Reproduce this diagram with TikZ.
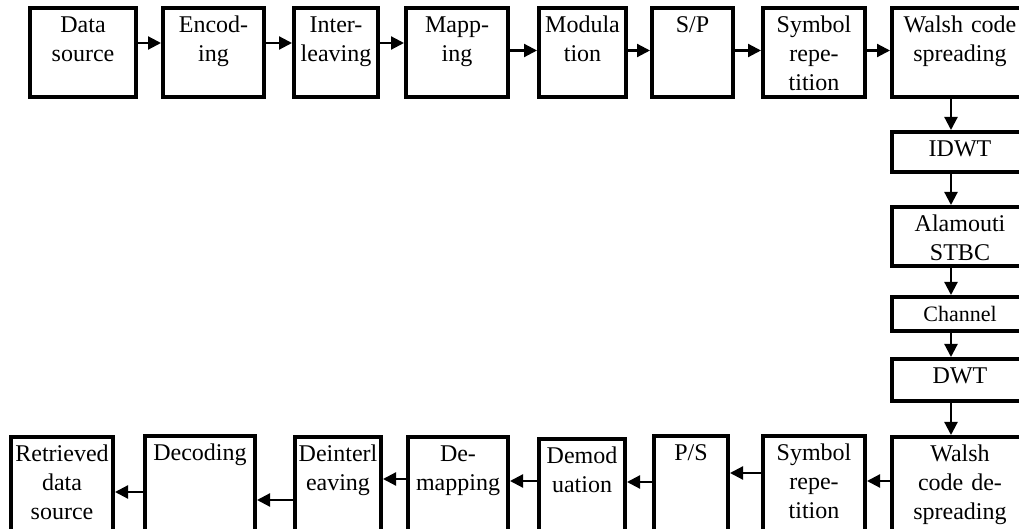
\documentclass[tikz,border=0pt]{standalone}
\usepackage{fontspec}
\setmainfont{Liberation Serif}
\usetikzlibrary{arrows.meta}
\tikzset{every picture/.style={line width=0.75pt}}
\tikzset{
    blk/.style={draw,line width=2pt,inner sep=0pt,align=center,anchor=north west,
        font=\fontsize{12}{14.5}\selectfont,text height=12.5pt},
    arr/.style={line width=1.1pt,-{Triangle[length=6.5pt,width=6.5pt]}}
}

\begin{document}
\begin{tikzpicture}[x=0.5pt,y=-0.5pt]
    \useasboundingbox (0,0) rectangle (1019,529);

    % Transmitter chain (top row)
    \node[blk,text width=53pt,text depth=32pt] (dsrc) at (28,6) {Data\\source};
    \node[blk,text width=50.5pt,text depth=32pt] (enc) at (161,6) {Encod-\\ing};
    \node[blk,text width=42pt,text depth=32pt] (intl) at (292,6) {Inter-\\leaving};
    \node[blk,text width=51pt,text depth=32pt] (map) at (404,6) {Mapp-\\ing};
    \node[blk,text width=43.5pt,text depth=32pt] (mod) at (537,6) {Modula\\tion};
    \node[blk,text width=40.5pt,text depth=32pt] (sp) at (650,6) {S/P};
    \node[blk,text width=51pt,text depth=32pt] (srep) at (761,6) {Symbol\\repe-\\tition};
    \node[blk,text width=68pt,text depth=32pt] (wspr) at (890,6) {Walsh code\\spreading};

    \draw[arr] ([yshift=4.75pt]dsrc.east) -- ([yshift=4.75pt]enc.west);
    \draw[arr] ([yshift=4.75pt]enc.east) -- ([yshift=4.75pt]intl.west);
    \draw[arr] ([yshift=4.75pt]intl.east) -- ([yshift=4.75pt]map.west);
    \draw[arr] ([yshift=1pt]map.east) -- ([yshift=1pt]mod.west);
    \draw[arr] ([yshift=1pt]mod.east) -- ([yshift=1pt]sp.west);
    \draw[arr] ([yshift=1pt]sp.east) -- ([yshift=1pt]srep.west);
    \draw[arr] ([yshift=1pt]srep.east) -- ([yshift=1pt]wspr.west);

    % Right column
    \node[blk,text width=68pt,text depth=7.5pt] (idwt) at (890,130) {IDWT};
    \node[blk,text width=68pt,text depth=17pt] (alam) at (890,205) {Alamouti\\STBC};
    \node[blk,text width=68pt,text depth=4.5pt,font=\fontsize{11}{13}\selectfont] (chan) at (890,295) {Channel};
    \node[blk,text width=68pt,text depth=8.5pt] (dwt) at (890,357) {DWT};
    \node[blk,text width=68pt,text depth=35pt] (wdesp) at (890,435) {Walsh\\code de-\\spreading};

    \draw[arr] ([xshift=-4.5pt]wspr.south) -- ([xshift=-4.5pt]idwt.north);
    \draw[arr] ([xshift=-4.5pt]idwt.south) -- ([xshift=-4.5pt]alam.north);
    \draw[arr] ([xshift=-4.5pt]alam.south) -- ([xshift=-4.5pt]chan.north);
    \draw[arr] ([xshift=-4.5pt,yshift=2pt]chan.south) -- ([xshift=-4.5pt]dwt.north);
    \draw[arr] ([xshift=-4.5pt]dwt.south) -- ([xshift=-4.5pt]wdesp.north);

    % Receiver chain (bottom row)
    \node[blk,text width=51pt,text depth=35pt] (ret) at (9,435) {Retrieved\\data\\source};
    \node[blk,text width=55pt,text depth=35pt] (dec) at (143,434) {Decoding};
    \node[blk,text width=43pt,text depth=35pt] (deint) at (293,435) {Deinterl\\eaving};
    \node[blk,text width=50pt,text depth=35pt] (demap) at (406,435) {De-\\mapping};
    \node[blk,text width=43pt,text depth=35pt] (demod) at (537,437) {Demod\\uation};
    \node[blk,text width=37pt,text depth=35pt] (ps) at (652,434) {P/S};
    \node[blk,text width=51pt,text depth=35pt] (srep2) at (761,434) {Symbol\\repe-\\tition};

    \draw[arr] (wdesp.west |- 0,481) -- (srep2.east |- 0,481);
    \draw[arr] (srep2.west |- 0,473) -- (ps.east |- 0,473);
    \draw[arr] (ps.west |- 0,482) -- (demod.east |- 0,482);
    \draw[arr] (demod.west |- 0,481) -- (demap.east |- 0,481);
    \draw[arr] (demap.west |- 0,479) -- (deint.east |- 0,479);
    \draw[arr] (deint.west |- 0,500) -- (dec.east |- 0,500);
    \draw[arr] (dec.west |- 0,492) -- (ret.east |- 0,492);
\end{tikzpicture}
\end{document}
